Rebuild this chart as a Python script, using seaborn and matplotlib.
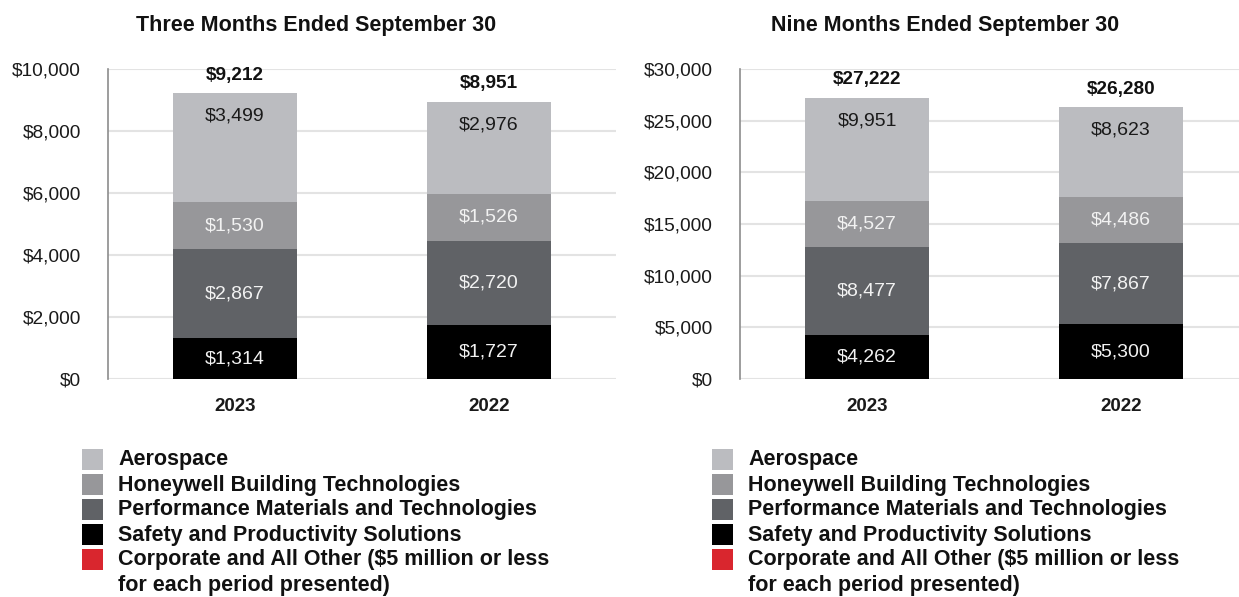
import matplotlib
matplotlib.use("Agg")
import matplotlib.pyplot as plt
import seaborn as sns
import pandas as pd
import numpy as np
from matplotlib.patches import Rectangle

years = ["2023", "2022"]
segments = ["Aerospace", "Honeywell Building Technologies",
            "Performance Materials and Technologies", "Safety and Productivity Solutions",
            "Corporate and All Other"]
colors = ["#BBBCC0", "#97979A", "#606266", "#000000", "#D9262E"]

# Three months (USD millions)
q_sps = [1314, 1727]
q_pmt = [2867, 2720]
q_hbt = [1530, 1526]
q_aero = [3499, 2976]
q_corp = [2, 2]
q_total = [9212, 8951]

# Nine months
n_sps = [4262, 5300]
n_pmt = [8477, 7867]
n_hbt = [4527, 4486]
n_aero = [9951, 8623]
n_corp = [5, 4]
n_total = [27222, 26280]

q_ticks = [0, 2000, 4000, 6000, 8000, 10000]
n_ticks = [0, 5000, 10000, 15000, 20000, 25000, 30000]

FONT = "Liberation Sans"
sns.set_theme(style="white")
plt.rcParams["font.family"] = [FONT, "DejaVu Sans"]

fig = plt.figure(figsize=(12.39, 5.97), dpi=100)

def panel(rect, sps, pmt, hbt, aero, corp, totals, ticks, title, title_x):
    ax = fig.add_axes(rect)
    df = pd.DataFrame({"year": years, "sps": sps, "pmt": pmt, "hbt": hbt,
                       "aero": aero, "corp": corp})
    order = ["sps", "pmt", "hbt", "aero", "corp"]
    cols = {"sps": colors[3], "pmt": colors[2], "hbt": colors[1],
            "aero": colors[0], "corp": colors[4]}
    cum = df[order].cumsum(axis=1)
    for key in reversed(order):
        sns.barplot(x=df["year"], y=cum[key], color=cols[key], width=0.485,
                    saturation=1, ax=ax, linewidth=0, order=years)
    ymax = ticks[-1]
    ax.set_ylim(0, ymax)
    ax.set_xlim(-0.5, 1.5)
    ax.set_yticks(ticks)
    ax.set_yticklabels([f"${t:,}" for t in ticks], fontsize=13.8, color="#1a1a1a")
    ax.set_xticks([0, 1])
    ax.set_xticklabels(years, fontsize=13.5, fontweight="bold", color="#1a1a1a")
    ax.tick_params(axis="x", length=0, pad=14)
    ax.tick_params(axis="y", length=6.5, width=1.2, color="#8c8c8c", pad=13, direction="out")
    ax.yaxis.grid(True, color="#e3e3e3", linewidth=1.5)
    ax.set_axisbelow(True)
    for s in ["top", "right", "bottom"]:
        ax.spines[s].set_visible(False)
    ax.spines["left"].set_color("#8c8c8c")
    ax.spines["left"].set_linewidth(1.2)
    ax.set_xlabel("")
    ax.set_ylabel("")
    for i in range(2):
        c = cum.iloc[i]
        ax.text(i, c["sps"] / 2, f"${sps[i]:,}", ha="center", va="center",
                fontsize=14, color="#f2f2f2")
        ax.text(i, c["sps"] + pmt[i] / 2, f"${pmt[i]:,}", ha="center", va="center",
                fontsize=14, color="#f2f2f2")
        ax.text(i, c["pmt"] + hbt[i] / 2, f"${hbt[i]:,}", ha="center", va="center",
                fontsize=14, color="#f2f2f2")
        ax.annotate(f"${aero[i]:,}", (i, c["corp"]), xytext=(0, -23),
                    textcoords="offset pixels", ha="center", va="center",
                    fontsize=14, color="#1a1a1a")
        ax.annotate(f"${totals[i]:,}", (i, totals[i]), xytext=(0, 18),
                    textcoords="offset pixels", ha="center", va="center",
                    fontsize=13.7, fontweight="bold", color="#111111")
    fig.text(title_x, 1 - 25 / 597, title, ha="center", va="center",
             fontsize=15.5, fontweight="bold", color="#111111")
    return ax

W, H = 1239, 597
panel([108 / W, 1 - 379 / H, 508 / W, 310 / H], q_sps, q_pmt, q_hbt, q_aero, q_corp,
      q_total, q_ticks, "Three Months Ended September 30", 316 / W)
panel([740 / W, 1 - 379 / H, 508 / W, 310 / H], n_sps, n_pmt, n_hbt, n_aero, n_corp,
      n_total, n_ticks, "Nine Months Ended September 30", 945 / W)

legend_labels = ["Aerospace", "Honeywell Building Technologies",
                 "Performance Materials and Technologies",
                 "Safety and Productivity Solutions",
                 "Corporate and All Other ($5 million or less"]
legend_colors = [colors[0], colors[1], colors[2], colors[3], colors[4]]
for x0 in (82, 712):
    for k, (lab, col) in enumerate(zip(legend_labels, legend_colors)):
        yc = 459 + 25 * k
        fig.patches.append(Rectangle((x0 / W, 1 - (yc + 11) / H), 21 / W, 21 / H,
                                     transform=fig.transFigure, facecolor=col,
                                     edgecolor="none"))
        fig.text((x0 + 36) / W, 1 - (yc + 1) / H, lab, ha="left", va="center",
                 fontsize=15.5, fontweight="bold", color="#111111")
    fig.text((x0 + 36) / W, 1 - 585 / H, "for each period presented)", ha="left",
             va="center", fontsize=15.5, fontweight="bold", color="#111111")

fig.savefig("out.png", dpi=100, facecolor="white")
